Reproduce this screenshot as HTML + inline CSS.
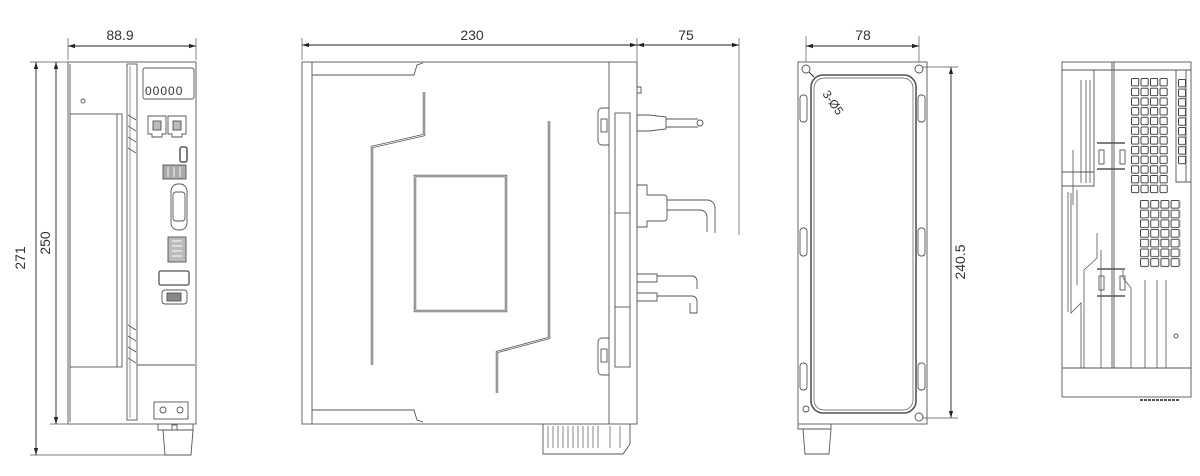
<!DOCTYPE html>
<html><head><meta charset="utf-8"><style>
html,body{margin:0;padding:0;background:#fff;width:1200px;height:476px;overflow:hidden}
svg{display:block}
text{font-family:"Liberation Sans",sans-serif;font-size:14px;fill:#333}
</style></head><body>
<svg width="1200" height="476" viewBox="0 0 1200 476" xmlns="http://www.w3.org/2000/svg">
<defs>
<marker id="a" viewBox="0 0 10 10" refX="10" refY="5" markerWidth="8" markerHeight="8" orient="auto-start-reverse"><path d="M0,2 L10,5 L0,8 z" fill="#222"/></marker>
<pattern id="g1" x="1131" y="78" width="9.5" height="9.7" patternUnits="userSpaceOnUse"><rect x="0.5" y="0.5" width="7.2" height="7.4" rx="1" fill="none" stroke="#444" stroke-width="1"/></pattern>
<pattern id="g2" x="1140" y="200" width="10.2" height="9.7" patternUnits="userSpaceOnUse"><rect x="0.5" y="0.5" width="8" height="7.6" rx="1" fill="none" stroke="#444" stroke-width="1"/></pattern>
<pattern id="g3" x="1178" y="79" width="9" height="9.6" patternUnits="userSpaceOnUse"><rect x="0.5" y="0.5" width="7" height="7.4" rx="1" fill="none" stroke="#444" stroke-width="1"/></pattern>
</defs>
<g fill="none" stroke="#555" stroke-width=".9">
<!-- VIEW 1 -->
<line x1="68" y1="38" x2="68" y2="60" stroke-width=".7"/><line x1="196" y1="38" x2="196" y2="60" stroke-width=".7"/>
<line x1="68" y1="46" x2="196" y2="46" stroke="#222" marker-start="url(#a)" marker-end="url(#a)"/>
<line x1="30" y1="62" x2="68" y2="62" stroke-width=".7"/><line x1="30" y1="455" x2="165" y2="455" stroke-width=".7"/><line x1="50" y1="424" x2="68" y2="424" stroke-width=".7"/>
<line x1="36" y1="62" x2="36" y2="455" stroke="#222" marker-start="url(#a)" marker-end="url(#a)"/>
<line x1="56" y1="62" x2="56" y2="424" stroke="#222" marker-start="url(#a)" marker-end="url(#a)"/>
<rect x="68" y="62" width="128" height="362"/>
<line x1="70" y1="64" x2="70" y2="422"/>
<rect x="127" y="64" width="10" height="356"/>
<line x1="130" y1="66" x2="130" y2="418" stroke-width=".6"/>
<g stroke-width=".8"><path d="M128 115l8 5M128 126l8 5M128 137l8 5M128 148l8 5M128 325l8 5M128 336l8 5M128 347l8 5M128 358l8 5"/></g>
<rect x="70" y="114" width="52" height="253"/>
<line x1="117" y1="114" x2="117" y2="367"/>
<circle cx="83" cy="101" r="2"/>
<rect x="143" y="68" width="51" height="31" rx="2"/>
<text x="145" y="95" style="font-size:12px;letter-spacing:1px" stroke="none">00000</text>
<line x1="137" y1="365" x2="195" y2="365"/>
<path d="M148 116h18v18h-4v3h-10v-3h-4zM168 116h18v18h-4v3h-10v-3h-4z"/>
<rect x="153" y="121" width="8" height="9" fill="#bbb"/><rect x="173" y="121" width="8" height="9" fill="#bbb"/>
<rect x="180" y="147" width="7" height="15" rx="2" stroke-width="1.5"/>
<rect x="163" y="165" width="23" height="14" fill="#aaa"/><path d="M168 167v10M174 167v10M180 167v10" stroke="#fff"/>
<rect x="171" y="184" width="16" height="46" rx="7"/><rect x="173" y="192" width="12" height="29" rx="3"/>
<rect x="168" y="237" width="18" height="25" fill="#bbb"/><path d="M172 241h10M172 246h10M172 251h10M172 256h10" stroke="#fff"/>
<rect x="159" y="271" width="30" height="14" rx="1.5" stroke-width="1.3"/>
<rect x="162" y="290" width="25" height="14" rx="3"/><rect x="167" y="293" width="14" height="8" fill="#888"/>
<rect x="154" y="402" width="34" height="17"/><circle cx="163" cy="410" r="3"/><circle cx="180" cy="410" r="3"/>
<path d="M158 424v6h35v-6M163 430l2 25h26l2-25"/><rect x="172" y="425" width="5" height="5"/>
<!-- VIEW 2 -->
<line x1="302" y1="38" x2="302" y2="60" stroke-width=".7"/><line x1="637" y1="38" x2="637" y2="90" stroke-width=".7"/><line x1="739" y1="38" x2="739" y2="235" stroke-width=".7"/>
<line x1="302" y1="45" x2="637" y2="45" stroke="#222" marker-start="url(#a)" marker-end="url(#a)"/>
<line x1="637" y1="45" x2="739" y2="45" stroke="#222" marker-start="url(#a)" marker-end="url(#a)"/>
<rect x="302" y="62" width="335" height="362"/>
<line x1="312" y1="62" x2="312" y2="424"/>
<path d="M312 75h102l3-10 6-2"/><path d="M312 410h102l3 10 6 2"/>
<line x1="609" y1="62" x2="609" y2="424"/>
<path d="M424 92v43l-52 12v218" stroke-width="2.4"/><path d="M424 92v43l-52 12v218" stroke="#fff" stroke-width=".8"/>
<path d="M549 121v217l-52 14v41" stroke-width="2.4"/><path d="M549 121v217l-52 14v41" stroke="#fff" stroke-width=".8"/>
<rect x="415" y="176" width="91" height="135" stroke-width="2.4"/><rect x="415" y="176" width="91" height="135" stroke="#fff" stroke-width=".8"/>
<rect x="615" y="113" width="15" height="254"/>
<line x1="615" y1="213" x2="630" y2="213"/><line x1="615" y1="307" x2="630" y2="307"/>
<path d="M609 108h-7a4 4 0 0 0-4 4v29a4 4 0 0 0 4 4h7"/><rect x="601" y="119" width="6" height="13"/>
<path d="M609 338h-7a4 4 0 0 0-4 4v29a4 4 0 0 0 4 4h7"/><rect x="601" y="349" width="6" height="13"/>
<path d="M637 115h12l17 2v12l-17 2h-12z"/><path d="M666 119h32M666 127h32"/><circle cx="700" cy="123" r="3"/>
<path d="M637 87h4v6h-4"/>
<path d="M637 185h10v10h17a3 3 0 0 1 3 3v20a3 3 0 0 1-3 3h-17v6h-10z"/>
<path d="M667 200h40a8 8 0 0 1 8 8v25M667 210h33a7 7 0 0 1 7 7v15"/>
<path d="M637 274h20v8h-20M637 293h20v8h-20"/><path d="M657 276h35a5 5 0 0 1 5 5v8M657 296h35a5 5 0 0 1 5 5v12h-7v-10"/>
<path d="M543 424v30h80l7-10v-20"/>
<g stroke-width=".7"><path d="M548 426v22M553 426v22M558 426v22M563 426v22M568 426v22M573 426v22M578 426v22M583 426v22M588 426v22M593 426v22M598 426v22M610 426v22M620 426v22"/></g>
<!-- VIEW 3 -->
<line x1="806" y1="36" x2="806" y2="62" stroke-width=".7"/><line x1="919" y1="36" x2="919" y2="62" stroke-width=".7"/>
<line x1="806" y1="46" x2="919" y2="46" stroke="#222" marker-start="url(#a)" marker-end="url(#a)"/>
<line x1="922" y1="67" x2="958" y2="67" stroke-width=".7"/><line x1="922" y1="418" x2="958" y2="418" stroke-width=".7"/>
<line x1="951" y1="67" x2="951" y2="418" stroke="#222" marker-start="url(#a)" marker-end="url(#a)"/>
<rect x="798" y="62" width="129" height="362"/>
<rect x="811" y="75" width="105" height="338" rx="12" stroke-width="1.6"/>
<rect x="814" y="78" width="99" height="332" rx="10" stroke-width=".7"/>
<circle cx="806" cy="69" r="4"/><circle cx="919" cy="69" r="4"/><circle cx="919" cy="417" r="4"/><circle cx="806" cy="409" r="3"/>
<line x1="809" y1="72" x2="814" y2="77" stroke="#222"/>
<g><rect x="800" y="95" width="7" height="27" rx="3"/><rect x="800" y="228" width="7" height="28" rx="3"/><rect x="800" y="363" width="7" height="27" rx="3"/>
<rect x="918" y="95" width="7" height="27" rx="3"/><rect x="918" y="228" width="7" height="28" rx="3"/><rect x="918" y="363" width="7" height="27" rx="3"/></g>
<path d="M798 424v5h33v-5M803 429l2 25h24l2-25"/>
<!-- VIEW 4 -->
<rect x="1062" y="62" width="129" height="335"/>
<line x1="1062" y1="70" x2="1191" y2="70"/><line x1="1062" y1="368" x2="1191" y2="368"/>
<line x1="1112" y1="62" x2="1112" y2="368"/><line x1="1114" y1="62" x2="1114" y2="368"/>
<path d="M1062 172h32v-102M1062 186h32v-14"/>
<path d="M1186 70v112h-10M1176 70v112h15"/>
<g stroke-width=".8"><path d="M1081 80v103M1086 80v103M1090 80v103M1077 190v95M1071 193v120l10-10v65M1097 233v25l-13 12v98M1101 250v118M1123 270v8l8 10v80M1145 280v88M1157 280v88M1166 280v88M1073 150v55M1068 192v120"/></g>
<rect x="1131" y="78" width="38" height="116" fill="url(#g1)" stroke="none"/>
<rect x="1140" y="200" width="41" height="68" fill="url(#g2)" stroke="none"/>
<rect x="1178" y="79" width="9" height="86" fill="url(#g3)" stroke="none"/>
<rect x="1099" y="150" width="5" height="14"/><rect x="1120" y="150" width="5" height="14"/>
<rect x="1099" y="276" width="5" height="14"/><rect x="1120" y="276" width="5" height="14"/>
<path d="M1097 143h28M1097 169h28M1097 269h28M1097 296h28" stroke-width="1.5"/>
<circle cx="1176" cy="336" r="2"/>
<path d="M1140 400h40" stroke-width="2" stroke-dasharray="3 1"/>
</g>
<g stroke="none">
<text x="120" y="40" text-anchor="middle">88.9</text>
<text x="472" y="40" text-anchor="middle">230</text>
<text x="686" y="40" text-anchor="middle">75</text>
<text x="863" y="40" text-anchor="middle">78</text>
<text transform="translate(25 258) rotate(-90)" text-anchor="middle">271</text>
<text transform="translate(50 243) rotate(-90)" text-anchor="middle">250</text>
<text transform="translate(965 262) rotate(-90)" text-anchor="middle">240.5</text>
<text transform="translate(822 94) rotate(55)" style="font-size:12px">3-Ø5</text>
</g>
</svg>
</body></html>
